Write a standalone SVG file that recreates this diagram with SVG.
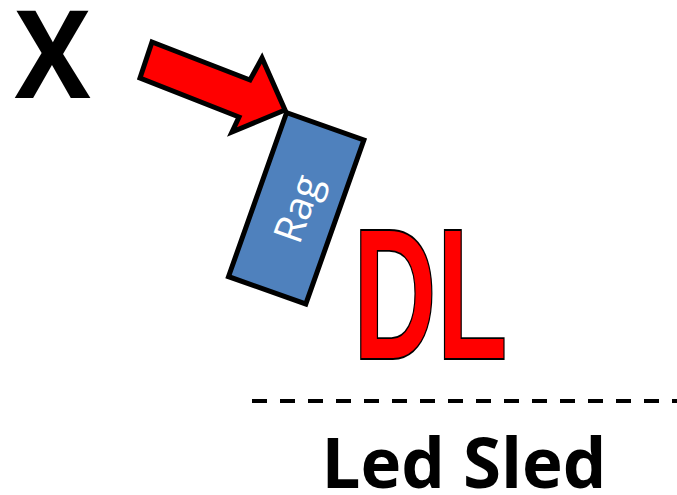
<svg xmlns="http://www.w3.org/2000/svg" width="677" height="495" viewBox="0 0 677 495">
<style>
.blk{font-family:"Open Sans","Liberation Sans",sans-serif;font-weight:bold;fill:#000}
.rag{font-family:"Open Sans","Liberation Sans",sans-serif;fill:#fff}
.dl{font-family:"Liberation Sans","DejaVu Sans",sans-serif;font-weight:bold;fill:#ff0000;stroke:#000;stroke-width:1.6;vector-effect:non-scaling-stroke}
</style>
<rect width="677" height="495" fill="#fff"/>
<g id="x-label"><text class="blk" font-size="122" text-anchor="middle" transform="translate(52.5,98) scale(0.93,1)">X</text></g>
<g id="connectors">
<path d="M152,42 L250,80 L262,58 L285,110 L232,132 L239,117 L140,78 Z" fill="#ff0000" stroke="#000" stroke-width="5" stroke-linejoin="miter"/>
<line x1="252" y1="401" x2="677" y2="401" stroke="#000" stroke-width="4" stroke-dasharray="15 13"/>
</g>
<g id="rag" transform="translate(296.2,208.3) rotate(19.5)">
<rect x="-41" y="-87" width="82" height="174" fill="#4f81bd" stroke="#000" stroke-width="5"/>
<text class="rag" x="0" y="0" font-size="40" text-anchor="middle" dominant-baseline="central" transform="rotate(-90)">Rag</text>
</g>
<g id="dl"><text class="dl" font-size="187" transform="translate(353,359) scale(0.62,1)">DL</text></g>
<g id="led-sled"><text class="blk" x="464" y="488" font-size="69" text-anchor="middle">Led Sled</text></g>
</svg>
